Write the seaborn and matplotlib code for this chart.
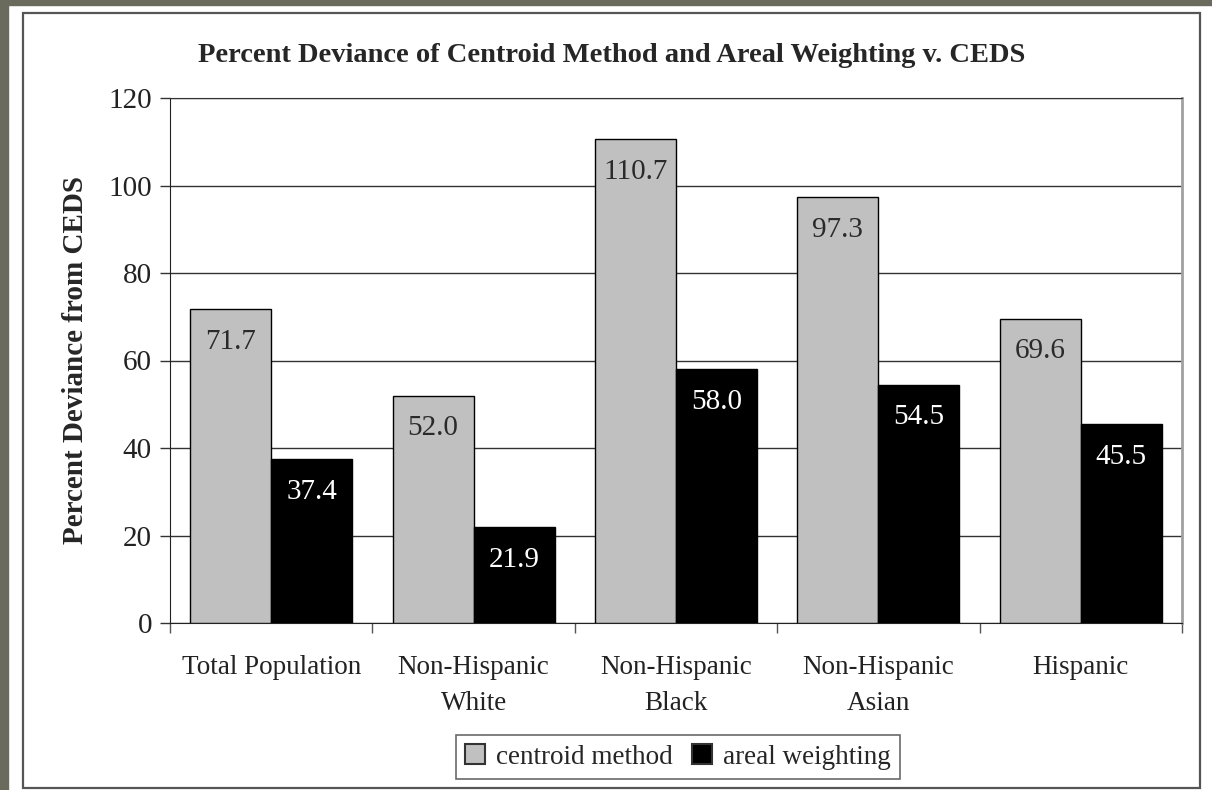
import pandas as pd
import matplotlib
matplotlib.use("Agg")
import matplotlib.pyplot as plt
from matplotlib.patches import Rectangle
from matplotlib.ticker import FixedLocator
import seaborn as sns

categories = ["Total Population", "Non-Hispanic\nWhite", "Non-Hispanic\nBlack",
              "Non-Hispanic\nAsian", "Hispanic"]
centroid_method = [71.7, 52.0, 110.7, 97.3, 69.6]
areal_weighting = [37.4, 21.9, 58.0, 54.5, 45.5]
series_names = ["centroid method", "areal weighting"]
y_ticks = [0, 20, 40, 60, 80, 100, 120]

df = pd.DataFrame({
    "Category": categories * 2,
    "Method": [series_names[0]] * 5 + [series_names[1]] * 5,
    "Value": centroid_method + areal_weighting,
})

sns.set_style("white")
plt.rcParams["font.family"] = ["Liberation Serif", "DejaVu Serif"]

fig = plt.figure(figsize=(12.12, 7.9), dpi=100)
W, H = 1212, 790

# dark page border and chart frame
fig.patches.append(Rectangle((0, 0), 8 / W, 1, transform=fig.transFigure,
                             color="#6a6b5d", zorder=0))
fig.patches.append(Rectangle((0, 1 - 5 / H), 1, 5 / H, transform=fig.transFigure,
                             color="#6a6b5d", zorder=0))
fig.patches.append(Rectangle((23 / W, 2 / H), 1177 / W, 775 / H, transform=fig.transFigure,
                             fill=False, edgecolor="#555555", lw=1.6, zorder=1))

ax = fig.add_axes([170 / W, 1 - 623 / H, 1012 / W, 525 / H])

sns.barplot(data=df, x="Category", y="Value", hue="Method", ax=ax,
            palette={"centroid method": "#c0c0c0", "areal weighting": "black"},
            edgecolor="black", linewidth=1.0, width=0.8, saturation=1, zorder=3)

for cont, col in zip(ax.containers, ["#2a2a2a", "white"]):
    ax.bar_label(cont, fmt="%.1f", padding=-33, color=col, fontsize=21)

ax.set_ylim(0, 120)
ax.set_xlim(-0.5, 4.5)
ax.set_yticks(y_ticks)
ax.yaxis.grid(True, color="#333333", lw=1.0, zorder=0)
ax.set_axisbelow(True)
ax.tick_params(axis="y", direction="out", length=7, width=1, color="#333333",
               labelsize=21, labelcolor="#222222", pad=6, left=True)
ax.tick_params(axis="x", which="major", length=0, labelsize=19.5, labelcolor="#222222", pad=23)
ax.xaxis.set_minor_locator(FixedLocator([-0.5, 0.5, 1.5, 2.5, 3.5, 4.5]))
ax.tick_params(axis="x", which="minor", direction="out", length=7, width=1,
               color="#555555", bottom=True)
for lab in ax.get_xticklabels():
    lab.set_linespacing(1.6)

ax.spines["left"].set_color("#222222")
ax.spines["bottom"].set_color("#222222")
ax.spines["right"].set_color("#a0a0a0")
ax.spines["right"].set_linewidth(2)
ax.spines["top"].set_color("#333333")

ax.set_xlabel("")
ax.set_ylabel("Percent Deviance from CEDS", fontsize=21, fontweight="bold", labelpad=14)

fig.text(612 / W, 1 - 56 / H,
         "Percent Deviance of Centroid Method and Areal Weighting v. CEDS",
         ha="center", va="center", fontsize=20.5, fontweight="bold")

handles, labels = ax.get_legend_handles_labels()
ax.get_legend().remove()
leg = fig.legend(handles, labels, loc="center", bbox_to_anchor=(678 / W, 1 - 757 / H),
                 ncol=2, fontsize=19.5, frameon=True, fancybox=False, edgecolor="#444444",
                 handlelength=0.75, handleheight=0.75, handletextpad=0.4,
                 columnspacing=0.7, borderpad=0.35, borderaxespad=0)
leg.get_frame().set_linewidth(1.2)
for h in leg.legend_handles:
    h.set_edgecolor("#333333")
    h.set_linewidth(1.5)

fig.savefig("out.png", dpi=100, facecolor="white")
